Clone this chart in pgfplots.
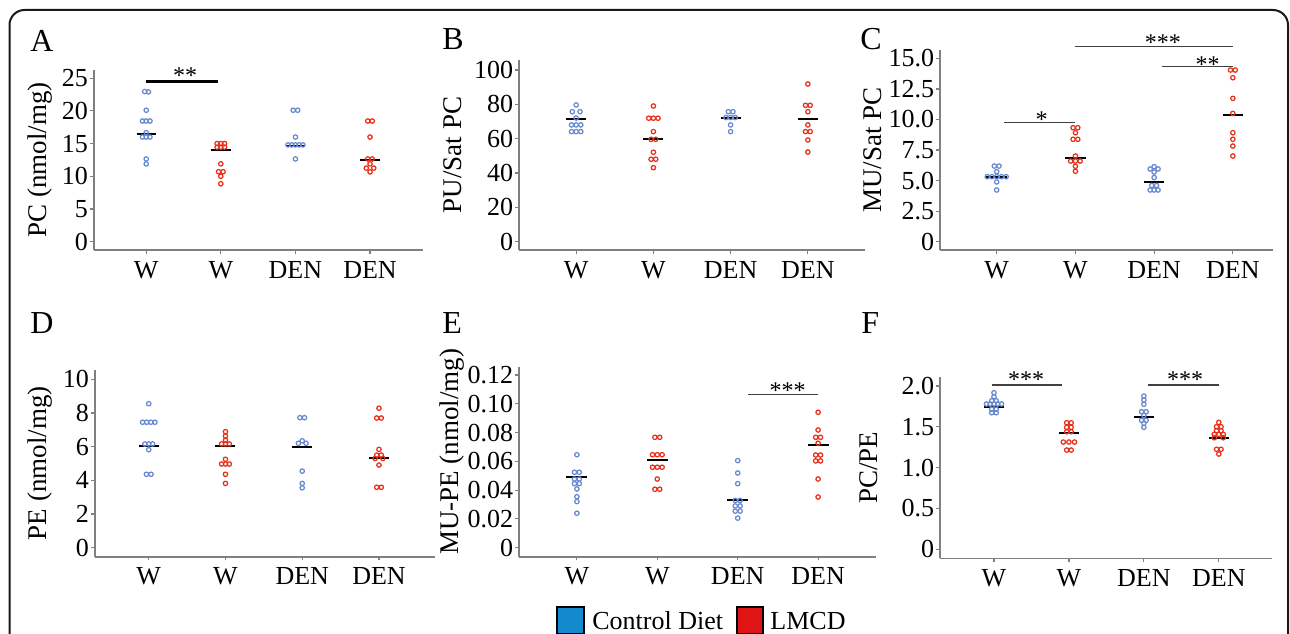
\documentclass[border=0pt]{standalone}
\usepackage{fontspec}
\setmainfont{Liberation Serif}
\usepackage{pgfplots}
\pgfplotsset{compat=1.18}

\definecolor{axgray}{RGB}{128,128,128}
\definecolor{ptblue}{RGB}{104,136,208}
\definecolor{ptred}{RGB}{232,48,26}
\definecolor{legblue}{RGB}{20,138,206}
\definecolor{legred}{RGB}{224,20,20}
\definecolor{bargray}{RGB}{64,64,64}

\tikzset{sigstar/.style={font=\fontsize{12}{12}\selectfont, anchor=base, inner sep=0pt}}

\pgfplotsset{
  panel/.style={
    scale only axis, anchor=south west, clip=false,
    axis x line*=bottom, axis y line*=left,
    axis line style={draw=axgray, line width=0.8pt},
    tick align=outside, major tick length=1.8pt,
    major tick style={draw=axgray, line width=0.6pt},
    xtick={0,1,2,3}, xticklabels={W,W,DEN,DEN},
    ticklabel style={font=\fontsize{13}{13}\selectfont},
    xticklabel style={inner sep=1pt, yshift=-2.5pt},
    yticklabel style={inner sep=1pt},
    ylabel style={font=\fontsize{13.5}{13.5}\selectfont, anchor=south, inner sep=0pt},
  },
  ctl/.style={only marks, mark=o, color=ptblue, mark size=1.1pt, mark options={line width=0.62pt}},
  lmcd/.style={only marks, mark=o, color=ptred, mark size=1.1pt, mark options={line width=0.62pt}},
  med/.style={black, line width=1pt, no marks},
  sig/.style={bargray, line width=0.75pt, no marks},
}

\begin{document}
\begin{tikzpicture}
\useasboundingbox (0,0) rectangle (645pt,316.5pt);
\clip (0,0) rectangle (645pt,316.5pt);
\draw[line width=1pt, rounded corners=7.5pt, black!90] (4.75pt,311.5pt) rectangle (644pt,-40pt);

% panel letters
\begin{scope}[every node/.style={anchor=base west, inner sep=0pt, font=\fontsize{16}{16}\selectfont}]
\node at (15pt,290.5pt) {A};
\node at (221pt,291.5pt) {B};
\node at (430pt,291.5pt) {C};
\node at (15pt,150pt) {D};
\node at (221pt,150pt) {E};
\node at (430.5pt,150pt) {F};
\end{scope}

% ---------------- A: PC
\begin{axis}[panel, at={(47pt,191.5pt)}, width=164.5pt, height=90pt,
  xmin=-0.70, xmax=3.71, ymin=-1.27, ymax=26.25,
  ytick={0,5,10,15,20,25}, yticklabels={0,5,10,15,20,25},
  ylabel={PC (nmol/mg)},
  ylabel style={at={([xshift=-20.5pt]axis description cs:0,0.5)}}]
\addplot[ctl] coordinates {(-0.02,22.95) (0.03,22.9) (0,20.1) (-0.05,18.45) (0,18.45) (0.05,18.45)
  (0,16.67) (-0.05,16.0) (0,16.0) (0.05,16.0) (0,12.65) (0,11.9)
  (1.97,20.1) (2.03,20.1) (2,16.0) (1.9,14.8) (1.95,14.8) (2,14.8) (2.05,14.8) (2.1,14.8) (2,12.65)};
\addplot[lmcd] coordinates {(0.95,15.0) (1,15.0) (1.05,15.0) (0.95,14.45) (1,14.45) (1.05,14.45)
  (1,11.9) (0.97,10.7) (1.03,10.7) (1,10.0) (1,8.85)
  (2.97,18.45) (3.03,18.45) (3,16.0) (2.97,12.65) (3.03,12.65) (3,11.9) (2.95,11.25) (3.05,11.25) (3,10.67)};
\addplot[med] coordinates {(-0.13,16.5) (0.13,16.5)};
\addplot[med] coordinates {(0.87,14.0) (1.13,14.0)};
\addplot[med] coordinates {(1.87,14.7) (2.13,14.7)};
\addplot[med] coordinates {(2.87,12.45) (3.13,12.45)};
\addplot[black, line width=1.3pt, no marks] coordinates {(0,24.46) (0.96,24.46)};
\node[sigstar, yshift=-0.7pt] at (axis cs:0.52,24.46) {**};
\end{axis}

% ---------------- B: PU/Sat PC
\begin{axis}[panel, at={(259.5pt,191.5pt)}, width=173pt, height=95pt,
  xmin=-0.74, xmax=3.74, ymin=-4.83, ymax=105.8,
  ytick={0,20,40,60,80,100}, yticklabels={0,20,40,60,80,100},
  ylabel={PU/Sat PC},
  ylabel style={at={([xshift=-28.5pt]axis description cs:0,0.5)}}]
\addplot[ctl] coordinates {(0,79.6) (-0.05,75.7) (0.05,75.7) (0,72) (-0.06,68) (0,68) (0.06,68)
  (-0.06,64.1) (0,64.1) (0.06,64.1)
  (1.97,75.7) (2.03,75.7) (1.94,72.3) (2,72.3) (2.06,72.3) (2,68) (2,64.1)};
\addplot[lmcd] coordinates {(1,79.0) (0.94,71.9) (1,71.9) (1.06,71.9) (1,64.1) (0.97,59.6) (1.03,59.6)
  (1,52.1) (0.97,48.0) (1.03,48.0) (1,43.1)
  (3,91.8) (2.97,79.4) (3.03,79.4) (3,75.7) (3,68) (2.97,64.1) (3.03,64.1) (3,59.2) (3,52.2)};
\addplot[med] coordinates {(-0.13,71.5) (0.13,71.5)};
\addplot[med] coordinates {(0.87,59.6) (1.13,59.6)};
\addplot[med] coordinates {(1.87,72.2) (2.13,72.2)};
\addplot[med] coordinates {(2.87,71.6) (3.13,71.6)};
\end{axis}

% ---------------- C: MU/Sat PC
\begin{axis}[panel, at={(470pt,191.5pt)}, width=166.5pt, height=100pt,
  xmin=-0.72, xmax=3.51, ymin=-0.68, ymax=15.69,
  ytick={0,2.5,5,7.5,10,12.5,15}, yticklabels={0,2.5,5.0,7.5,10.0,12.5,15.0},
  ylabel={MU/Sat PC},
  ylabel style={at={([xshift=-29pt]axis description cs:0,0.5)}}]
\addplot[ctl] coordinates {(-0.03,6.19) (0.03,6.19) (0,5.73) (-0.12,5.32) (-0.06,5.32) (0,5.32) (0.06,5.32) (0.12,5.32)
  (0,4.89) (0,4.23)
  (2,6.14) (1.95,5.95) (2.05,5.95) (2,5.7) (2,5.25) (1.97,4.6) (2.03,4.6) (1.95,4.23) (2,4.23) (2.05,4.23)};
\addplot[lmcd] coordinates {(0.97,9.33) (1.03,9.33) (1,8.92) (0.97,8.38) (1.03,8.38) (1,7.01)
  (0.94,6.6) (1,6.6) (1.06,6.6) (1,6.17) (1,5.76)
  (2.97,14.05) (3.03,14.05) (3,13.42) (3,11.73) (3,10.5) (3,8.92) (3,8.38) (3,7.83) (3,7.01)};
\addplot[med] coordinates {(-0.13,5.3) (0.13,5.3)};
\addplot[med] coordinates {(0.87,6.87) (1.13,6.87)};
\addplot[med] coordinates {(1.87,4.87) (2.13,4.87)};
\addplot[med] coordinates {(2.87,10.37) (3.13,10.37)};
\addplot[sig] coordinates {(0.09,9.74) (1,9.74)};
\addplot[sig] coordinates {(1,15.96) (3,15.96)};
\addplot[sig] coordinates {(2.1,14.32) (3,14.32)};
\node[sigstar, yshift=-2.6pt] at (axis cs:0.57,9.74) {*};
\node[sigstar, yshift=-1.8pt] at (axis cs:2.11,15.96) {***};
\node[sigstar, yshift=-2.8pt] at (axis cs:2.68,14.32) {**};
\end{axis}

% ---------------- D: PE
\begin{axis}[panel, at={(47.5pt,38.15pt)}, width=170pt, height=93.35pt,
  xmin=-0.70, xmax=3.73, ymin=-0.53, ymax=10.55,
  ytick={0,2,4,6,8,10}, yticklabels={0,2,4,6,8,10},
  ylabel={PE (nmol/mg)},
  ylabel style={at={([xshift=-21pt]axis description cs:0,0.5)}}]
\addplot[ctl] coordinates {(0,8.55) (-0.08,7.45) (-0.027,7.45) (0.027,7.45) (0.08,7.45)
  (-0.05,6.16) (0,6.16) (0.05,6.16) (0,5.82) (-0.03,4.36) (0.03,4.36)
  (1.97,7.72) (2.03,7.72) (2,6.35) (1.95,6.2) (2.05,6.2) (2,4.55) (2,3.82) (2,3.56)};
\addplot[lmcd] coordinates {(1,6.89) (1,6.63) (1,6.38) (0.95,6.16) (1,6.16) (1.05,6.16) (1,5.25)
  (0.95,4.97) (1,4.97) (1.05,4.97) (1,4.36) (1,3.82)
  (3,8.28) (2.97,7.7) (3.03,7.7) (3,5.84) (2.97,5.5) (3.03,5.5) (2.95,5.3) (3.05,5.3) (3,4.91) (2.97,3.59) (3.03,3.59)};
\addplot[med] coordinates {(-0.13,6.05) (0.13,6.05)};
\addplot[med] coordinates {(0.87,6.04) (1.13,6.04)};
\addplot[med] coordinates {(1.87,5.98) (2.13,5.98)};
\addplot[med] coordinates {(2.87,5.33) (3.13,5.33)};
\end{axis}

% ---------------- E: MU-PE
\begin{axis}[panel, at={(259.5pt,38.15pt)}, width=178.5pt, height=95pt,
  xmin=-0.72, xmax=3.72, ymin=-0.0063, ymax=0.1258,
  ytick={0,0.02,0.04,0.06,0.08,0.1,0.12}, yticklabels={0,0.02,0.04,0.06,0.08,0.10,0.12},
  ylabel={MU-PE (nmol/mg)},
  ylabel style={at={([xshift=-27pt,yshift=5pt]axis description cs:0,0.5)}}]
\addplot[ctl] coordinates {(0,0.0646) (-0.03,0.0524) (0.03,0.0524) (-0.03,0.0477) (0.03,0.0477)
  (-0.03,0.0445) (0.03,0.0445) (0,0.0408) (0,0.0354) (0,0.032) (0,0.0239)
  (2,0.0605) (2,0.0519) (2,0.0445) (1.97,0.0328) (2.03,0.0328) (1.97,0.029) (2.03,0.029)
  (1.97,0.0254) (2.03,0.0254) (2,0.0205)};
\addplot[lmcd] coordinates {(0.97,0.0767) (1.03,0.0767) (0.94,0.0646) (1,0.0646) (1.06,0.0646)
  (0.94,0.0559) (1,0.0559) (1.06,0.0559) (1,0.0477) (0.97,0.0406) (1.03,0.0406)
  (3,0.0941) (3,0.0818) (2.97,0.0767) (3.03,0.0767) (3,0.0726) (2.97,0.0644) (3.03,0.0644)
  (2.97,0.0603) (3.03,0.0603) (3,0.0477) (3,0.0352)};
\addplot[med] coordinates {(-0.13,0.0493) (0.13,0.0493)};
\addplot[med] coordinates {(0.87,0.0609) (1.13,0.0609)};
\addplot[med] coordinates {(1.87,0.0329) (2.13,0.0329)};
\addplot[med] coordinates {(2.87,0.0712) (3.13,0.0712)};
\addplot[sig] coordinates {(2.13,0.1063) (3,0.1063)};
\node[sigstar, yshift=-2pt] at (axis cs:2.62,0.1063) {***};
\end{axis}

% ---------------- F: PC/PE
\begin{axis}[panel, at={(470pt,37.35pt)}, width=166pt, height=90.5pt,
  xmin=-0.72, xmax=3.71, ymin=-0.11, ymax=2.107,
  ytick={0,0.5,1,1.5,2}, yticklabels={0,0.5,1.0,1.5,2.0},
  ylabel={PC/PE},
  ylabel style={at={([xshift=-31pt]axis description cs:0,0.5)}}]
\addplot[ctl] coordinates {(0,1.918) (0,1.869) (-0.03,1.82) (0.03,1.82) (-0.1,1.78) (-0.05,1.78) (0,1.78)
  (0.05,1.78) (0.1,1.78) (-0.03,1.715) (0.03,1.715) (-0.03,1.673) (0.03,1.673)
  (2,1.877) (2,1.829) (2,1.776) (1.97,1.685) (2.03,1.685) (2,1.64) (1.97,1.58) (2.03,1.58) (2,1.543) (2,1.494)};
\addplot[lmcd] coordinates {(0.97,1.55) (1.03,1.55) (0.97,1.494) (1.03,1.494) (0.97,1.44) (1.03,1.44)
  (0.925,1.314) (1,1.314) (1.075,1.314) (0.97,1.216) (1.03,1.216)
  (3,1.555) (2.97,1.502) (3.03,1.502) (2.97,1.453) (3.03,1.453) (2.94,1.408) (3,1.408) (3.06,1.408)
  (2.94,1.367) (3.06,1.367) (2.97,1.225) (3.03,1.225) (3,1.167)};
\addplot[med] coordinates {(-0.13,1.746) (0.13,1.746)};
\addplot[med] coordinates {(0.87,1.428) (1.13,1.428)};
\addplot[med] coordinates {(1.87,1.624) (2.13,1.624)};
\addplot[med] coordinates {(2.87,1.367) (3.13,1.367)};
\addplot[sig] coordinates {(-0.03,2.012) (0.91,2.012)};
\addplot[sig] coordinates {(2.05,2.012) (3,2.012)};
\node[sigstar, yshift=-1.2pt] at (axis cs:0.43,2.012) {***};
\node[sigstar, yshift=-1.2pt] at (axis cs:2.55,2.012) {***};
\end{axis}

% legend
\draw[line width=0.75pt, fill=legblue] (278.5pt,13pt) rectangle (292pt,-0.5pt);
\node[anchor=base west, inner sep=0pt, font=\fontsize{13}{13}\selectfont] at (296pt,1.75pt) {Control Diet};
\draw[line width=0.75pt, fill=legred] (368.5pt,13pt) rectangle (381.5pt,-0.5pt);
\node[anchor=base west, inner sep=0pt, font=\fontsize{13}{13}\selectfont] at (385pt,1.75pt) {LMCD};
\end{tikzpicture}
\end{document}
